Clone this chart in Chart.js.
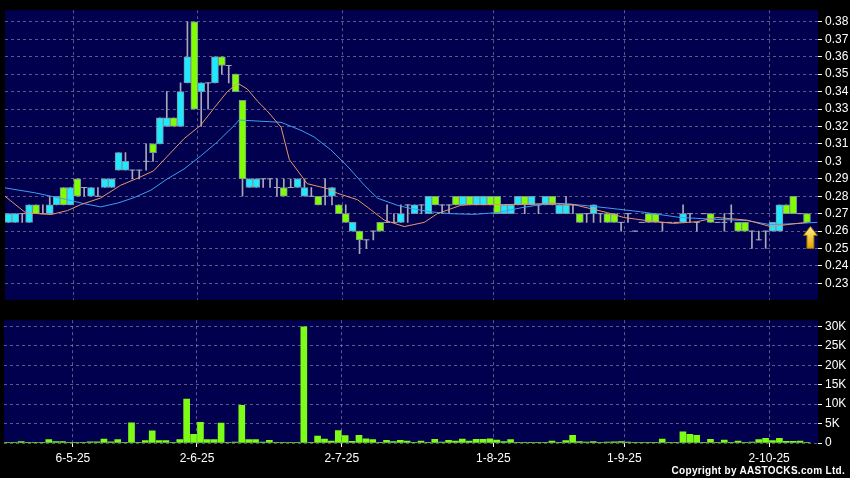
<!DOCTYPE html>
<html><head><meta charset="utf-8">
<script src="https://cdn.jsdelivr.net/npm/chart.js@4.4.1/dist/chart.umd.min.js"></script>
<style>
html,body{margin:0;padding:0;background:#000;width:850px;height:478px;overflow:hidden}
canvas{position:absolute;left:0}
#pc{top:0}
#vc{top:310px}
#copy{position:absolute;right:5px;top:465px;color:#fff;font:bold 10px Arial,'Liberation Sans',sans-serif;letter-spacing:0.3px;white-space:nowrap}
</style></head><body>
<canvas id="pc" width="850" height="310"></canvas>
<canvas id="vc" width="850" height="168"></canvas>
<div id="copy">Copyright by AASTOCKS.com Ltd.</div>
<script>
// ---- data ----
const dateLabels = ['6-5-25','2-6-25','2-7-25','1-8-25','1-9-25','2-10-25'];
const dateIndex  = [10, 28, 49, 71, 90, 111];

const openP = [
 .265,.265,.27,.265,.275,.27,.27,.275,.285,.275,
 .29,.285,.28,.28,.285,.285,.295,.295,.295,.295,
 .30,.31,.31,.32,.325,.32,.345,.38,.34,.345,
 .345,.36,.355,.35,.335,.285,.285,.29,.29,.285,
 .285,.285,.285,.28,.28,.28,.28,.28,.275,.27,
 .26,.26,.255,.26,.265,.265,.265,.265,.275,.27,
 .275,.27,.28,.275,.275,.28,.275,.28,.275,.275,
 .28,.28,.27,.27,.275,.28,.275,.275,.275,.28,
 .27,.27,.275,.27,.27,.27,.27,.27,.27,.265,
 .27,.26,.265,.27,.27,.265,.265,.265,.265,.27,
 .265,.27,.27,.265,.265,.27,.265,.265,.26,.255,
 .26,.26,.26,.275,.28,.27,.27];
const closeP = [
 .27,.27,.27,.275,.27,.27,.275,.28,.275,.285,
 .28,.285,.285,.28,.29,.29,.305,.30,.295,.295,
 .30,.305,.325,.325,.32,.34,.36,.33,.345,.345,
 .36,.355,.355,.34,.29,.29,.29,.29,.29,.285,
 .28,.285,.29,.285,.28,.275,.28,.285,.27,.265,
 .265,.255,.255,.26,.26,.265,.265,.27,.275,.275,
 .275,.28,.275,.275,.275,.275,.28,.275,.28,.28,
 .275,.27,.275,.275,.28,.275,.28,.275,.28,.275,
 .275,.275,.275,.265,.27,.275,.27,.265,.265,.265,
 .27,.26,.265,.265,.265,.265,.265,.265,.27,.27,
 .265,.27,.265,.265,.265,.27,.26,.26,.26,.255,
 .26,.265,.275,.27,.27,.27,.265];
const highP = [
 .27,.27,.27,.275,.275,.275,.28,.28,.285,.285,
 .29,.285,.285,.285,.29,.29,.305,.305,.295,.295,
 .31,.31,.325,.34,.325,.345,.38,.38,.345,.345,
 .36,.36,.355,.35,.335,.29,.29,.29,.29,.29,
 .29,.29,.29,.29,.285,.28,.29,.285,.275,.275,
 .265,.26,.255,.26,.265,.275,.27,.275,.275,.275,
 .275,.28,.28,.275,.275,.28,.28,.28,.28,.28,
 .28,.28,.275,.275,.28,.28,.28,.275,.28,.28,
 .275,.28,.275,.27,.27,.275,.27,.27,.27,.265,
 .27,.26,.265,.27,.27,.265,.265,.265,.275,.27,
 .265,.27,.27,.265,.27,.275,.265,.265,.26,.26,
 .26,.265,.275,.275,.28,.27,.27];
const lowP = [
 .265,.265,.265,.265,.27,.27,.27,.275,.275,.275,
 .28,.28,.28,.28,.285,.285,.295,.295,.29,.29,
 .295,.30,.31,.32,.32,.32,.345,.33,.32,.33,
 .345,.35,.345,.34,.28,.285,.285,.285,.285,.28,
 .28,.285,.285,.28,.28,.275,.275,.275,.27,.265,
 .26,.247,.25,.255,.26,.265,.265,.265,.265,.27,
 .27,.27,.275,.27,.27,.275,.275,.275,.275,.275,
 .275,.27,.27,.27,.275,.27,.275,.27,.275,.275,
 .27,.27,.27,.265,.265,.265,.265,.265,.265,.26,
 .265,.26,.265,.265,.265,.26,.265,.265,.265,.265,
 .26,.27,.265,.265,.26,.265,.26,.26,.25,.255,
 .25,.26,.26,.27,.27,.27,.265];
const volumeK = [
 .1,.2,.35,.1,.1,.1,.85,.35,.35,.1,
 .1,.2,.3,.3,1.0,.3,.85,.05,5.2,.05,
 .6,3.1,.6,.6,.05,.85,11.3,2.2,5.3,.85,
 .85,5.1,.05,.25,9.7,.85,.85,.25,.7,.2,
 .2,.2,.2,29.9,.2,1.8,1.0,.5,3.2,1.9,
 .4,2.0,1.1,.85,.1,.7,.35,.7,.5,.1,
 .5,.2,.95,.25,.7,.5,1.0,.5,.95,.95,
 1.1,.75,.35,.85,.1,.1,.1,.1,.1,.5,
 .1,.6,2.0,.35,.25,.35,.1,.25,.3,.35,
 .25,.1,.1,.1,.1,1.0,.1,.15,2.9,2.2,
 2.0,.1,.95,.1,.75,.1,.5,.1,.25,.85,
 1.2,.6,1.2,.4,.4,.5,.05];
// moving averages as [bar position, value]
const maShort = [[-0.5,.280],[2.5,.2705],[6.2,.2695],[8.6,.2718],[10.5,.2752],[13.4,.279],[16.3,.2863],[18.8,.2904],[21.1,.2946],[23.1,.303],[25.5,.313],[27.9,.3206],[29.9,.3307],[31.8,.340],[33.3,.3448],[34.7,.3415],[36.2,.3344],[37.6,.3289],[39.6,.3196],[40.8,.3011],[43.4,.2872],[46.3,.2844],[47.8,.2817],[50.7,.278],[52.6,.2724],[53.6,.2693],[54.6,.2663],[57.5,.2626],[60.4,.265],[62.3,.270],[65.7,.2748],[67.1,.2752],[71.9,.2752],[78.8,.2758],[82.1,.2752],[87,.2706],[89.4,.2678],[92.8,.266],[96.6,.2644],[100,.2654],[102.9,.2678],[107.3,.2663],[110.7,.2626],[113.1,.2637],[116,.265]];
const maLong = [[-0.5,.2848],[3.8,.282],[8.6,.278],[11,.2757],[13.4,.2739],[15.9,.2761],[18.3,.2793],[20.7,.2835],[23.1,.290],[25.5,.2956],[27.9,.303],[30.4,.3113],[32.8,.3206],[33.5,.3237],[36.7,.323],[39.6,.3224],[42.5,.3178],[44.4,.314],[46.8,.3067],[49.2,.2974],[51.7,.2863],[53.6,.2789],[56.5,.2748],[58.4,.273],[61.3,.2711],[64.2,.270],[67.6,.2696],[71,.2706],[74.9,.2737],[78.8,.276],[81.2,.2757],[87,.2733],[91.8,.2711],[97.6,.2678],[102.5,.2668],[107.3,.266],[110.7,.2637],[113.1,.2641],[117.5,.265]];
const priceTicks = [0.23,0.24,0.25,0.26,0.27,0.28,0.29,0.30,0.31,0.32,0.33,0.34,0.35,0.36,0.37,0.38];
const volumeTicks = [0,5000,10000,15000,20000,25000,30000];
const volumeTickLabels = ['0','5K','10K','15K','20K','25K','30K'];

// ---- styles ----
const FONT = "Arial, 'Liberation Sans', sans-serif";
const GRID = 'rgba(150,150,175,0.6)';
const PLOT_BG = '#00004e';
const UP = '#1ee9ff', DOWN = '#7fff00', EDGE = '#8090a0', WICK = '#a8a8b8';

const N = openP.length;
const idx = openP.map((_, i) => i);
const isDoji = i => openP[i] === closeP[i];
const bodies = idx.filter(i => !isDoji(i)).map(i => ({x: i, y: [openP[i], closeP[i]]}));
const bodyColors = bodies.map(d => d.y[1] > d.y[0] ? UP : DOWN);
const wicks = idx.map(i => ({x: i, y: [lowP[i], highP[i]]}));
const dojis = idx.filter(isDoji).map(i => ({x: i, y: closeP[i]}));
const toXY = arr => arr.map(p => ({x: p[0], y: p[1]}));

const bgPlugin = { id: 'bg', beforeDraw(c) {
  const {ctx, chartArea: a} = c; ctx.save();
  ctx.fillStyle = '#000'; ctx.fillRect(0, 0, c.width, c.height);
  ctx.fillStyle = PLOT_BG; ctx.fillRect(a.left, a.top, a.right - a.left, a.bottom - a.top);
  ctx.restore(); } };

const arrowPlugin = { id: 'arrow', afterDatasetsDraw(c) {
  const ctx = c.ctx, last = N - 1;
  const x = c.scales.x.getPixelForValue(last + 0.5);
  const y = c.scales.y.getPixelForValue(closeP[last]) + 4;
  ctx.save();
  const g = ctx.createLinearGradient(0, y, 0, y + 22);
  g.addColorStop(0, '#fff48a'); g.addColorStop(1, '#e2a200');
  ctx.beginPath();
  ctx.moveTo(x, y); ctx.lineTo(x + 7, y + 9); ctx.lineTo(x + 3.5, y + 9);
  ctx.lineTo(x + 3.5, y + 22); ctx.lineTo(x - 3.5, y + 22); ctx.lineTo(x - 3.5, y + 9);
  ctx.lineTo(x - 7, y + 9); ctx.closePath();
  ctx.fillStyle = g; ctx.fill();
  ctx.strokeStyle = '#9a6a00'; ctx.lineWidth = 1; ctx.stroke();
  ctx.restore(); } };

function xAxis(showLabels) {
  return {
    type: 'linear', min: -0.5, max: 117.6, offset: false,
    afterBuildTicks: s => { s.ticks = dateIndex.map(i => ({value: i - 0.5})); },
    afterFit: s => { s.height = showLabels ? 35 : 0; },
    ticks: { display: showLabels, autoSkip: false, maxRotation: 0, padding: 4, color: '#fff',
             font: {family: FONT, size: 12}, callback: (v, k) => dateLabels[k] },
    grid: { color: GRID, lineWidth: 1, offset: false, drawTicks: showLabels, tickLength: 4, tickColor: '#fff', tickBorderDash: [] },
    border: { display: false, dash: [3, 3] }
  };
}
function yAxis(min, max, ticks, cb) {
  return {
    position: 'right', min: min, max: max,
    afterBuildTicks: s => { s.ticks = ticks.map(v => ({value: v})); },
    afterFit: s => { s.width = 32; },
    ticks: { autoSkip: false, padding: 3, color: '#fff', font: {family: FONT, size: 12}, callback: cb },
    grid: { color: GRID, lineWidth: 1, drawTicks: true, tickLength: 4, tickColor: '#fff', tickBorderDash: [] },
    border: { display: false, dash: [3, 3] }
  };
}

new Chart(document.getElementById('pc'), {
  type: 'bar',
  data: { datasets: [
    { type: 'line', label: 'MA short', data: toXY(maShort), borderColor: '#e8946a', borderWidth: 1, pointRadius: 0, tension: 0, order: 1 },
    { type: 'line', label: 'MA long', data: toXY(maLong), borderColor: '#3d9ef0', borderWidth: 1, pointRadius: 0, tension: 0, order: 1 },
    { type: 'line', label: 'doji', data: dojis, showLine: false, pointStyle: 'line', pointRadius: 3, pointBorderColor: WICK, pointBorderWidth: 1, order: 2 },
    { type: 'bar', label: 'body', data: bodies, backgroundColor: bodyColors, borderColor: EDGE, borderWidth: 1, borderSkipped: false, barThickness: 7, grouped: false, order: 3 },
    { type: 'bar', label: 'wick', data: wicks, backgroundColor: WICK, borderWidth: 0, barThickness: 1, grouped: false, order: 4 }
  ]},
  options: {
    responsive: false, devicePixelRatio: 1, animation: false,
    layout: { padding: { left: 4, top: 6, right: 0, bottom: 5 } },
    plugins: { legend: { display: false }, tooltip: { enabled: false } },
    scales: {
      x: xAxis(false),
      y: yAxis(0.2206, 0.3867, priceTicks, v => String(+Number(v).toFixed(2)))
    }
  },
  plugins: [bgPlugin, arrowPlugin]
});

new Chart(document.getElementById('vc'), {
  type: 'bar',
  data: { datasets: [
    { type: 'bar', label: 'volume', data: volumeK.map((v, i) => ({x: i, y: v * 1000})), backgroundColor: '#7dfc18', borderWidth: 0, barThickness: 6, grouped: false }
  ]},
  options: {
    responsive: false, devicePixelRatio: 1, animation: false,
    layout: { padding: { left: 4, top: 8, right: 0, bottom: 0 } },
    plugins: { legend: { display: false }, tooltip: { enabled: false } },
    scales: {
      x: xAxis(true),
      y: yAxis(0, 31600, volumeTicks, (v, k) => volumeTickLabels[k])
    }
  },
  plugins: [bgPlugin]
});
</script>
</body></html>
